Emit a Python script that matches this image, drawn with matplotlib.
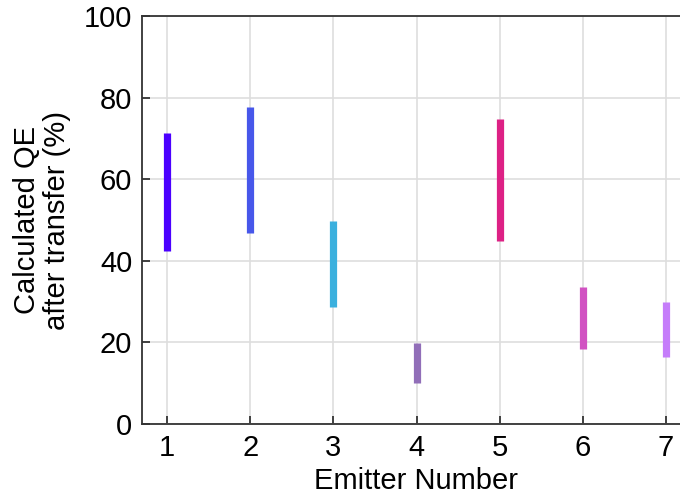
import matplotlib
matplotlib.use("Agg")
import matplotlib.pyplot as plt

emitters = [1, 2, 3, 4, 5, 6, 7]
qe_low = [42.5, 46.9, 28.7, 10.1, 44.9, 18.5, 16.3]
qe_high = [71.4, 77.8, 49.7, 19.8, 74.7, 33.7, 29.9]
colors = ["#4B00FF", "#4757EA", "#3BB0DE", "#916EB8", "#DD2185", "#D152C2", "#C57DFA"]
yticks = [0, 20, 40, 60, 80, 100]

plt.rcParams['font.family'] = ['Liberation Sans', 'DejaVu Sans']

fig = plt.figure(figsize=(6.8, 4.95), dpi=100)
W, H = 680, 495
left_px, right_px, top_px, bot_px = 142, 691, 16, 424
ax = fig.add_axes([left_px / W, 1 - bot_px / H, (right_px - left_px) / W, (bot_px - top_px) / H])

ax.vlines(emitters, qe_low, qe_high, colors=colors, linewidth=5.2, zorder=3)

ax.set_xlim(0.7, 7.3)
ax.set_ylim(0, 100)
ax.set_xticks(emitters)
ax.set_yticks(yticks)
ax.grid(True, color="#dedede", linewidth=1.2, zorder=0)
ax.set_axisbelow(True)

for s in ax.spines.values():
    s.set_color("#333333")
    s.set_linewidth(1.3)

ax.tick_params(direction="in", length=6, width=1.3, color="#333333", labelsize=21, pad=7)
ax.set_xlabel("Emitter Number", fontsize=21, labelpad=4)
ax.set_ylabel("Calculated QE\nafter transfer (%)", fontsize=21, labelpad=9, linespacing=1.12)

fig.savefig("out.png", dpi=100)
